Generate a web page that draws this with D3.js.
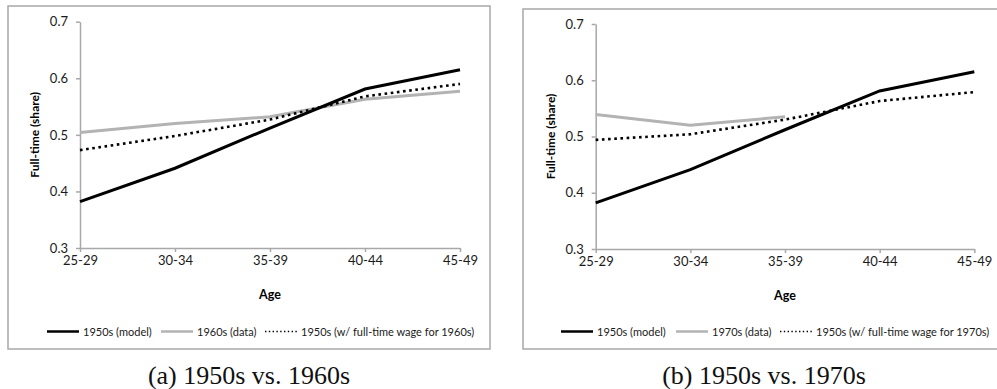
<!DOCTYPE html>
<html>
<head>
<meta charset="utf-8">
<script src="https://cdn.jsdelivr.net/npm/d3@7"></script>
<style>
  body { margin: 0; background: #fff; }
  svg { display: block; }
  .tick text { font-family: Lato, "Open Sans", sans-serif; font-size: 13px; fill: #1a1a1a; }
</style>
</head>
<body>
<svg id="chart" width="997" height="389"></svg>
<script>
// global data
var ageGroups = ['25-29', '30-34', '35-39', '40-44', '45-49'];
var yTicks = [0.3, 0.4, 0.5, 0.6, 0.7];

var model1950 = [0.382, 0.441, 0.512, 0.581, 0.615];
var data1960 = [0.504, 0.520, 0.532, 0.563, 0.577];
var cf1960 = [0.473, 0.498, 0.527, 0.568, 0.590];

var data1970 = [0.539, 0.520, 0.535];
var cf1970 = [0.494, 0.504, 0.530, 0.563, 0.579];

var svg = d3.select('#chart');

// draw one panel
function drawPanel(p){
    var g = svg.append('g');

    // frame
    g.append('rect')
        .attr('x', p.frame[0]).attr('y', p.frame[1])
        .attr('width', p.frame[2]).attr('height', p.frame[3])
        .style('fill', 'none')
        .style('stroke', '#a8a8a8')
        .style('stroke-width', 1.5);

    var xScale = d3.scalePoint()
        .domain(ageGroups)
        .range([p.left, p.right]);
    var yScale = d3.scaleLinear()
        .domain([0.3, 0.7])
        .range([p.bottom, p.top]);

    // y axis
    var yAxis = d3.axisLeft(yScale)
        .tickValues(yTicks)
        .tickFormat(d3.format('.1f'))
        .tickSizeInner(4).tickSizeOuter(0).tickPadding(8);
    var yg = g.append('g')
        .attr('transform', 'translate(' + p.left + ',0)')
        .call(yAxis);

    // x axis
    var xAxis = d3.axisBottom(xScale)
        .tickSizeInner(4).tickSizeOuter(0).tickPadding(4);
    var xg = g.append('g')
        .attr('transform', 'translate(0,' + p.bottom + ')')
        .call(xAxis);

    [yg, xg].forEach(function(a){
        a.selectAll('path, line')
            .style('stroke', '#a8a8a8')
            .style('stroke-width', 1.5);
    });

    // axis titles
    g.append('text')
        .attr('x', (p.left + p.right) / 2)
        .attr('y', p.bottom + 51)
        .attr('text-anchor', 'middle')
        .style('font-family', 'Lato, sans-serif')
        .style('font-weight', 'bold')
        .style('font-size', '12.5px')
        .text('Age');
    g.append('text')
        .attr('transform', 'translate(' + (p.left - 41) + ',' + ((p.top + p.bottom) / 2) + ') rotate(-90)')
        .attr('text-anchor', 'middle')
        .style('font-family', 'Lato, sans-serif')
        .style('font-weight', 'bold')
        .style('font-size', '12px')
        .text('Full-time (share)');

    var line = d3.line()
        .x(function(d, i){ return xScale(ageGroups[i]); })
        .y(function(d){ return yScale(d); });

    // series: gray data, dotted counterfactual, black model
    g.append('path').datum(p.data)
        .attr('d', line)
        .style('fill', 'none').style('stroke', '#b3b3b3').style('stroke-width', 3);
    g.append('path').datum(p.cf)
        .attr('d', line)
        .style('fill', 'none').style('stroke', '#000').style('stroke-width', 2.6)
        .style('stroke-dasharray', '2.6,3.6');
    g.append('path').datum(model1950)
        .attr('d', line)
        .style('fill', 'none').style('stroke', '#000').style('stroke-width', 3);

    // legend
    var leg = g.append('g').attr('transform', 'translate(0,' + p.legY + ')');
    var items = [
        {label: '1950s (model)', color: '#000', dash: null, w: 2.5},
        {label: p.dataLabel, color: '#b3b3b3', dash: null, w: 2.5},
        {label: p.cfLabel, color: '#000', dash: '1.4,2.4', w: 1.4}
    ];
    items.forEach(function(it, i){
        var x0 = p.legX[i];
        leg.append('line')
            .attr('x1', x0).attr('x2', x0 + 32)
            .attr('y1', 0).attr('y2', 0)
            .style('stroke', it.color)
            .style('stroke-width', it.w)
            .style('stroke-dasharray', it.dash);
        leg.append('text')
            .attr('x', x0 + 36)
            .attr('y', 4)
            .style('font-family', 'Lato, sans-serif')
            .style('font-size', '11px')
            .style('fill', '#1a1a1a')
            .text(it.label);
    });

    // caption
    svg.append('text')
        .attr('x', p.capX)
        .attr('y', 384)
        .attr('text-anchor', 'middle')
        .style('font-family', '"Liberation Serif", "DejaVu Serif", serif')
        .style('font-size', '26px')
        .style('fill', '#111')
        .text(p.caption);
}

drawPanel({
    frame: [8, 6, 482, 343],
    left: 80, right: 460, top: 21.7, bottom: 248,
    data: data1960, cf: cf1960,
    dataLabel: '1960s (data)',
    cfLabel: '1950s (w/ full-time wage for 1960s)',
    legY: 331.5, legX: [47, 161, 265],
    capX: 249, caption: '(a) 1950s vs. 1960s'
});

drawPanel({
    frame: [523, 9, 482, 340],
    left: 595.7, right: 974.3, top: 24, bottom: 249,
    data: data1970, cf: cf1970,
    dataLabel: '1970s (data)',
    cfLabel: '1950s (w/ full-time wage for 1970s)',
    legY: 331.5, legX: [561, 676, 780],
    capX: 764, caption: '(b) 1950s vs. 1970s'
});
</script>
</body>
</html>
